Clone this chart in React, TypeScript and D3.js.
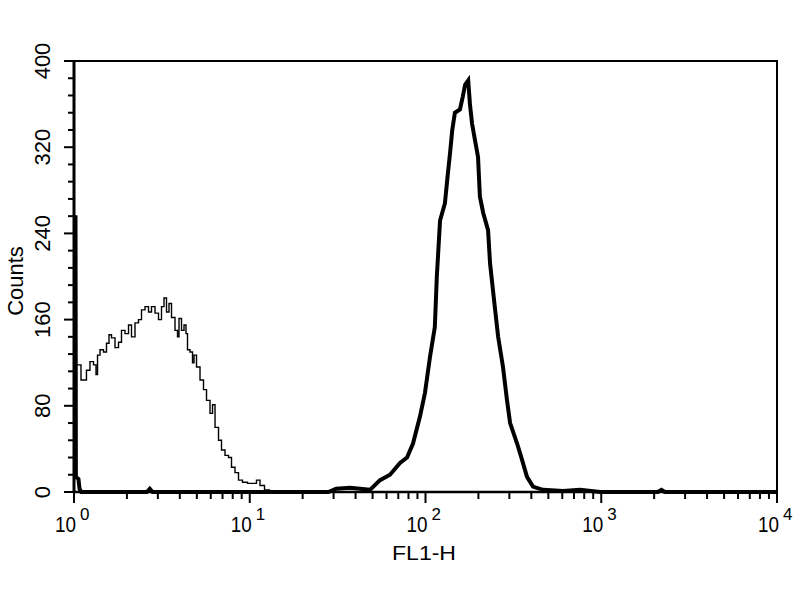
import React, { useEffect, useRef } from 'react';
import * as d3 from 'd3';

// FL1-H histogram
const thinFl = [1.04, 1.155, 1.2, 1.266, 1.317, 1.352, 1.37, 1.443, 1.501, 1.561, 1.603, 1.667, 1.757, 1.827, 1.9, 2.003, 2.083, 2.166, 2.283, 2.374, 2.47, 2.603, 2.706, 2.815, 2.967, 3.086, 3.209, 3.295, 3.426, 3.518, 3.659, 3.856, 3.906, 4.01, 4.171, 4.281, 4.395, 4.453, 4.693, 4.755, 4.881, 5.077, 5.35, 5.565, 5.787, 6.1, 6.181, 6.513, 6.773, 7.044, 7.423, 7.72, 8.03, 8.462, 8.8, 9.397, 10.03, 10.71, 11.14, 11.74, 12.54, 13.39, 14.5];
const thinCounts = [118, 104, 113, 121, 118, 109, 127, 132, 130, 138, 146, 143, 134, 139, 150, 147, 155, 144, 157, 160, 169, 172, 167, 172, 166, 160, 172, 180, 167, 175, 162, 150, 144, 161, 150, 155, 147, 132, 130, 120, 127, 116, 104, 95, 85, 73, 81, 60, 48, 39, 34, 32, 23, 18, 11, 9, 8, 8, 11, 6, 2, 0, 0];

const thickFl = [1.0, 1.02, 1.025, 1.06, 1.075, 1.1, 2.6, 2.7, 2.8, 28, 31, 37.2, 42.4, 48.3, 55.1, 62.8, 71.6, 78.5, 84.9, 93, 99.3, 106, 113, 116, 121, 129, 133, 138, 142, 147, 157, 163, 168, 175, 179, 184, 191, 199, 204, 213, 227, 233, 249, 259, 276, 291, 303, 332, 354, 378, 409, 466, 606, 757, 984, 2100, 2200, 2300, 10000];
const thickCounts = [255, 255, 14, 12, 3, 0, 0, 3, 0, 0, 3, 4, 3, 2, 11, 16, 27, 32, 45, 70, 92, 125, 153, 200, 252, 268, 290, 315, 336, 352, 355, 367, 378, 382, 360, 342, 327, 311, 274, 259, 243, 212, 169, 144, 116, 85, 64, 45, 30, 14, 5, 2, 1, 2, 0, 0, 2, 0, 0];

const yMajor = [0, 80, 160, 240, 320, 400];
const yMinorStep = 16;
const decades = [1, 10, 100, 1000, 10000];
const decadeExp = ['0', '1', '2', '3', '4'];

const width = 800;
const height = 600;
const margin = { top: 61, right: 23, bottom: 108, left: 74 };

const App: React.FC = () => {
    const svgRef = useRef<SVGSVGElement | null>(null);

    useEffect(() => {
        const svg = d3.select(svgRef.current);
        svg.selectAll('*').remove();

        const x = d3.scaleLog().domain([1, 10000]).range([margin.left, width - margin.right]);
        const y = d3.scaleLinear().domain([0, 400]).range([height - margin.bottom, margin.top]);
        const x0 = margin.left, x1 = width - margin.right;
        const y0 = height - margin.bottom, y1 = margin.top;
        const font = '"Liberation Sans", Arial, sans-serif';

        svg.append('rect').attr('width', width).attr('height', height).attr('fill', '#fff');

        // frame
        svg.append('path')
            .attr('d', `M${x0},${y1}H${x1}V${y0}`)
            .attr('fill', 'none').attr('stroke', '#000').attr('stroke-width', 2);
        svg.append('line').attr('x1', x0).attr('x2', x0).attr('y1', y1).attr('y2', y0 + 1)
            .attr('stroke', '#000').attr('stroke-width', 3);
        svg.append('line').attr('x1', x0).attr('x2', x1 + 1).attr('y1', y0).attr('y2', y0)
            .attr('stroke', '#000').attr('stroke-width', 2.5);

        // y ticks
        const yMinor = d3.range(0, 401, yMinorStep);
        svg.append('g').selectAll('line').data(yMinor).join('line')
            .attr('x1', d => (yMajor.includes(d) ? x0 - 10 : x0 - 6)).attr('x2', x0)
            .attr('y1', d => y(d)).attr('y2', d => y(d))
            .attr('stroke', '#000').attr('stroke-width', 2);
        svg.append('g').selectAll('text').data(yMajor).join('text')
            .attr('transform', d => `translate(50,${y(d)}) rotate(-90)`)
            .attr('text-anchor', 'middle')
            .attr('font-family', font).attr('font-size', 22)
            .text(d => d);

        // x ticks
        const xMinor: number[] = [];
        decades.slice(0, -1).forEach(dec => d3.range(2, 10).forEach(k => xMinor.push(k * dec)));
        svg.append('g').selectAll('line').data(xMinor).join('line')
            .attr('x1', d => x(d)).attr('x2', d => x(d))
            .attr('y1', y0).attr('y2', y0 + 7)
            .attr('stroke', '#000').attr('stroke-width', 2);
        svg.append('g').selectAll('line').data(decades).join('line')
            .attr('x1', d => x(d)).attr('x2', d => x(d))
            .attr('y1', y0).attr('y2', y0 + 11)
            .attr('stroke', '#000').attr('stroke-width', 2);

        // decade labels: "10" with the exponent raised just past the tick
        const xl = svg.append('g').selectAll('text').data(decades).join('text')
            .attr('font-family', font)
            .attr('x', d => x(d) - 19).attr('y', 532);
        xl.append('tspan')
            .attr('font-size', 22)
            .attr('textLength', 21).attr('lengthAdjust', 'spacingAndGlyphs')
            .text('10');
        xl.append('tspan')
            .attr('dx', 4).attr('dy', -12)
            .attr('font-size', 17)
            .text((d, i) => decadeExp[i]);

        // axis titles
        svg.append('text')
            .attr('x', 424).attr('y', 560)
            .attr('text-anchor', 'middle')
            .attr('font-family', font).attr('font-size', 21)
            .attr('textLength', 64).attr('lengthAdjust', 'spacingAndGlyphs')
            .text('FL1-H');
        svg.append('text')
            .attr('transform', `translate(23,281) rotate(-90)`)
            .attr('text-anchor', 'middle')
            .attr('font-family', font).attr('font-size', 22)
            .text('Counts');

        const stepLine = d3.line<[number, number]>()
            .x(d => x(d[0]))
            .y(d => y(d[1]))
            .curve(d3.curveStep);
        const smoothLine = d3.line<[number, number]>()
            .x(d => x(d[0]))
            .y(d => y(d[1]));

        svg.append('path')
            .datum(thinFl.map((f, i) => [f, thinCounts[i]] as [number, number]))
            .attr('d', stepLine)
            .attr('fill', 'none').attr('stroke', '#000').attr('stroke-width', 1.4);

        svg.append('path')
            .datum(thickFl.map((f, i) => [f, thickCounts[i]] as [number, number]))
            .attr('d', smoothLine)
            .attr('fill', 'none').attr('stroke', '#000').attr('stroke-width', 4)
            .attr('stroke-linejoin', 'miter');
    }, []);

    return (
        <svg ref={svgRef} width={width} height={height}
            style={{ position: 'absolute', left: 0, top: 0 }} />
    );
};

export default App;
